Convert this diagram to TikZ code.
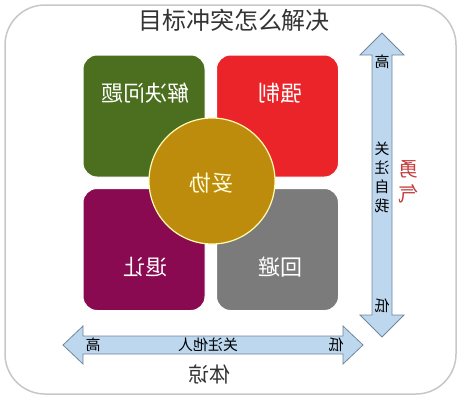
\documentclass[tikz,border=0pt]{standalone}
\usepackage{fontspec}
\setmainfont{Noto Sans CJK SC}
\usetikzlibrary{backgrounds}
\definecolor{leafgreen}{RGB}{75,111,30}
\definecolor{signalred}{RGB}{234,36,40}
\definecolor{plum}{RGB}{138,10,82}
\definecolor{slate}{RGB}{123,123,123}
\definecolor{goldcoin}{RGB}{190,140,12}
\definecolor{paleblue}{RGB}{189,215,238}
\definecolor{arrowedge}{RGB}{115,135,155}
\definecolor{braveRed}{RGB}{196,60,60}
\newcommand{\mirror}[1]{\reflectbox{#1}}
\tikzstyle{tile} = [rectangle, rounded corners=14pt, minimum width=122pt, minimum height=122pt, draw=white, line width=1pt, inner sep=0]
\tikzstyle{tilelabel} = [text=white, inner sep=0, font=\fontsize{22}{22}\selectfont]
\tikzstyle{axislabel} = [text=black, inner sep=0, font=\fontsize{15}{19}\selectfont, align=center]
\tikzstyle{blockarrow} = [fill=paleblue, draw=arrowedge, line width=0.8pt, line join=miter]

\begin{document}
\begin{tikzpicture}[x=1pt, y=-1pt]
    \useasboundingbox (0,0) rectangle (461,400);

    % frame and title
    \draw[rounded corners=40pt, draw=black!22, line width=1.5pt] (5,5) rectangle (456,394);
    \node (title) at (234,20) [text=black!80, font=\fontsize{24}{24}\selectfont] {目标冲突怎么解决};

    % four tiles
    \node (solve) at (144,116) [tile, fill=leafgreen] {};
    \node (force) at (277.5,116) [tile, fill=signalred] {};
    \node (yield) at (144,249.5) [tile, fill=plum] {};
    \node (avoid) at (277.5,249.5) [tile, fill=slate] {};

    \node (lblSolve) at (145,93) [tilelabel] {\mirror{解决问题}};
    \node (lblForce) at (280,93) [tilelabel] {\mirror{强制}};
    \node (lblYield) at (145,267) [tilelabel] {\mirror{退让}};
    \node (lblAvoid) at (280,267) [tilelabel] {\mirror{回避}};

    % compromise in the middle
    \node (comp) at (212,181) [circle, minimum size=126pt, fill=goldcoin, draw=yellow!30, line width=1.2pt] {};
    \node (lblComp) at (211,183) [tilelabel, text=yellow!15] {\mirror{妥协}};

    % vertical axis: care for self
    \draw[blockarrow] (382,33) -- (404,55) -- (392,55) -- (392,315) -- (404,315) -- (382,337)
        -- (360,315) -- (372,315) -- (372,55) -- (360,55) -- cycle;
    \node (selfHigh) at (382,62) [axislabel] {\mirror{高}};
    \node (selfName) at (382,177) [axislabel] {\mirror{关}\\\mirror{注}\\\mirror{自}\\\mirror{我}};
    \node (selfLow) at (382,306) [axislabel] {\mirror{低}};
    \node (courage) at (408,182) [text=braveRed, align=center, inner sep=0, font=\fontsize{20}{25}\selectfont] {\mirror{勇}\\\mirror{气}};

    % horizontal axis: care for others
    \draw[blockarrow] (63,345) -- (83,326) -- (83,336) -- (343,336) -- (343,326) -- (363,345)
        -- (343,364) -- (343,354) -- (83,354) -- (83,364) -- cycle;
    \node (otherHigh) at (93,345) [axislabel] {\mirror{高}};
    \node (otherName) at (208,345) [axislabel] {\mirror{关注他人}};
    \node (otherLow) at (336,345) [axislabel] {\mirror{低}};
    \node (empathy) at (209,374) [text=black!80, inner sep=0, font=\fontsize{21}{21}\selectfont] {\mirror{体谅}};

\end{tikzpicture}
\end{document}
